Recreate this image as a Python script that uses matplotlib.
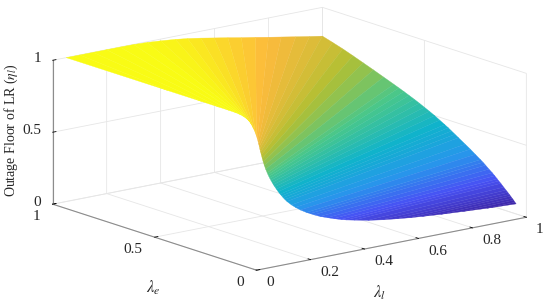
import numpy as np
import matplotlib
matplotlib.use("Agg")
import matplotlib.pyplot as plt
from matplotlib.colors import LinearSegmentedColormap

# the surface only depends on the ratio lambda_e / lambda_l, read along its edges
ratio = [0.05, 0.056, 0.0625, 0.0694, 0.0769, 0.0833, 0.0909, 0.1, 0.111, 0.125, 0.135, 0.143, 0.155, 0.167,
         0.183, 0.2, 0.212, 0.225, 0.25, 0.275, 0.3, 0.333, 0.35, 0.367, 0.383, 0.4, 0.425, 0.45, 0.475, 0.5,
         0.525, 0.55, 0.575, 0.6, 0.625, 0.65, 0.7, 0.75, 0.8, 0.85, 0.9, 0.95, 1.0,
         1.05, 1.11, 1.18, 1.25, 1.33, 1.43, 1.54, 1.67, 1.82, 2.0, 2.2, 2.5, 2.86, 3.33, 4.0, 5.0, 6.67, 10.0, 20.0]
outage = [0.07, 0.079, 0.09, 0.10, 0.111, 0.12, 0.131, 0.143, 0.158, 0.178, 0.19, 0.201, 0.217, 0.232,
          0.25, 0.27, 0.284, 0.297, 0.322, 0.347, 0.37, 0.40, 0.416, 0.431, 0.446, 0.46, 0.48, 0.50, 0.518, 0.535,
          0.552, 0.568, 0.583, 0.598, 0.612, 0.626, 0.653, 0.68, 0.706, 0.732, 0.757, 0.779, 0.80,
          0.815, 0.832, 0.85, 0.866, 0.883, 0.90, 0.918, 0.935, 0.952, 0.967, 0.978, 0.988, 0.995, 0.999, 1.0, 1.0, 1.0, 1.0, 1.0]
lam_min = 0.05

l_ticks = [0, 0.2, 0.4, 0.6, 0.8, 1]
l_labels = ["0", "0.2", "0.4", "0.6", "0.8", "1"]
e_ticks = [0, 0.5, 1]
e_labels = ["0", "0.5", "1"]
z_ticks = [0, 0.5, 1]
z_labels = ["0", "0.5", "1"]

parula_colors = [(0.2422, 0.1504, 0.6603), (0.2810, 0.3228, 0.9579), (0.1540, 0.5902, 0.9218),
                 (0.0600, 0.7000, 0.8000), (0.2800, 0.7800, 0.5500), (0.7000, 0.7500, 0.2000),
                 (0.9900, 0.7300, 0.2400), (0.9769, 0.9839, 0.0805)]
parula = LinearSegmentedColormap.from_list("parula", parula_colors)

plt.rcParams["font.family"] = "Liberation Serif"
plt.rcParams["mathtext.fontset"] = "stix"

fig = plt.figure(figsize=(5.5, 3.05), dpi=100)
# 3d axes are forced square, so make it wider than the figure is tall
ax = fig.add_axes([0.0129, -0.381, 1.0, 1.8033], projection="3d", proj_type="ortho")
ax.view_init(elev=14.6, azim=-127.9)
ax.set_box_aspect((1.03, 1.0, 0.448), zoom=0.881)

# each ratio is a straight ruling across the square [lam_min, 1]^2
r = np.array(ratio)
l_in = np.where(r < 1, lam_min / r, lam_min)
e_in = np.where(r < 1, lam_min, lam_min * r)
l_out = np.where(r < 1, 1.0, 1.0 / r)
e_out = np.where(r < 1, r, 1.0)
L = np.vstack([l_in, l_out])
E = np.vstack([e_in, e_out])
Z = np.vstack([outage, outage])

surf = ax.plot_surface(L, E, Z, cmap=parula, rstride=1, cstride=1, linewidth=0.25,
                       antialiased=True, vmin=0.07, vmax=1.0)
surf.set_edgecolor("face")

ax.set_xlim(0, 1, view_margin=0)
ax.set_ylim(0, 1, view_margin=0)
ax.set_zlim(0, 1, view_margin=0)
ax.set_xticks(l_ticks, [""] * len(l_ticks))
ax.set_yticks(e_ticks, [""] * len(e_ticks))
ax.set_zticks(z_ticks, [""] * len(z_ticks))
ax.zaxis.set_ticks_position("upper")
ax.zaxis.set_label_position("upper")

# matlab aligns tick labels left/right, mplot3d centres them, so write them by hand
text_color = "#262626"
for t, lab in zip(l_ticks, l_labels):
    ax.text(t, -0.048, -0.066, lab, fontsize=11, ha="left", va="center", color=text_color)
for t, lab in zip(e_ticks, e_labels):
    ax.text(-0.047, t, -0.065, lab, fontsize=11, ha="right", va="center", color=text_color)
for t, lab in zip(z_ticks, z_labels):
    ax.text(-0.043, 1, t + 0.026, lab, fontsize=11, ha="right", va="center", color=text_color)

fig.text(153 / 550, 1 - 288 / 305, r"$\lambda_e$", fontsize=12, ha="center", va="center", color=text_color)
fig.text(380 / 550, 1 - 293 / 305, r"$\lambda_l$", fontsize=12, ha="center", va="center", color=text_color)
fig.text(11 / 550, 1 - 130 / 305, r"Outage Floor of LR ($\eta_l$)", fontsize=10, rotation=90,
         ha="center", va="center", color=text_color)

for axis in (ax.xaxis, ax.yaxis, ax.zaxis):
    axis.set_pane_color((1, 1, 1, 0))
    axis.pane.set_edgecolor((1, 1, 1, 0))
    axis.line.set_color("#8c8c8c")
    axis.line.set_linewidth(0.8)
    axis._axinfo["grid"].update(color="#e6e6e6", linewidth=0.6)
    axis._axinfo["tick"].update(inward_factor=0.0, outward_factor=0.15, linewidth={True: 0.6, False: 0.6}, color="#8c8c8c")

fig.savefig("out.png", dpi=100)
